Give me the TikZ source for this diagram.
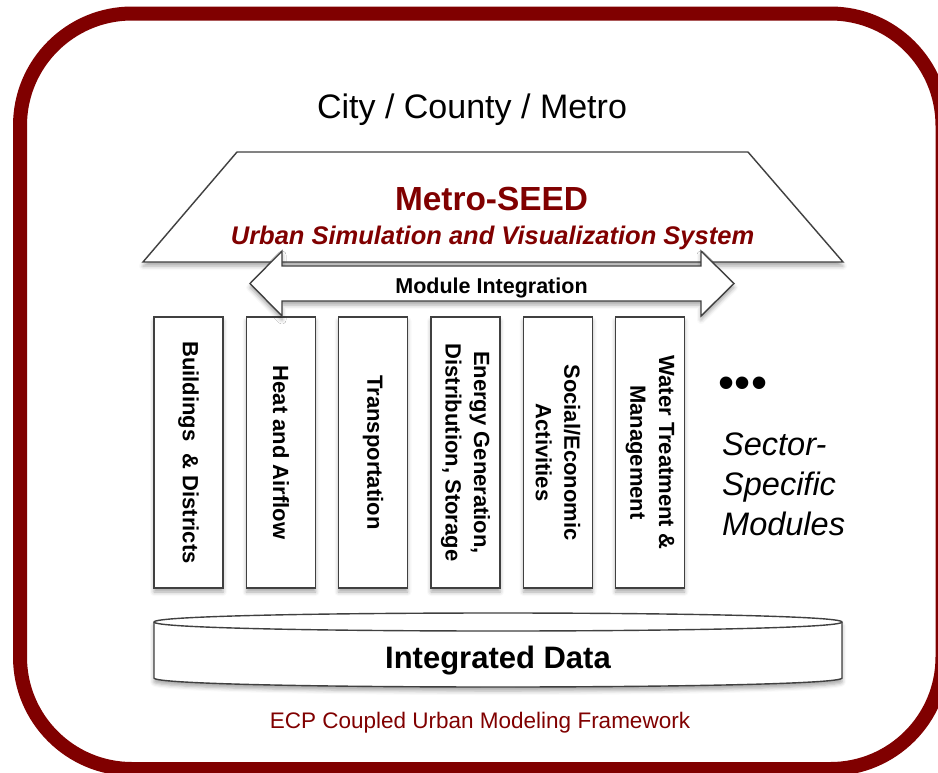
\documentclass[tikz,border=0pt]{standalone}
\usepackage{fontspec}
\setmainfont{Liberation Sans}
\usetikzlibrary{shadows.blur}
\definecolor{frameRed}{RGB}{128,0,0}
\definecolor{lineGray}{RGB}{64,64,64}
\begin{document}
\begin{tikzpicture}[x=1pt,y=-1pt,
  shapeline/.style={draw=lineGray, line width=1.4pt, fill=white, line join=miter},
  shadowed/.style={blur shadow={shadow xshift=0pt, shadow yshift=-4pt, shadow blur radius=4pt, shadow opacity=35}},
  modbox/.style={shapeline, shadowed, rectangle, minimum width=69pt, minimum height=271pt, inner sep=0pt},
  vlabel/.style={rotate=-90, align=center, inner sep=0pt, font=\fontsize{22}{28.6}\selectfont\bfseries, text=black},
  redtext/.style={text=frameRed},
]
\useasboundingbox (0,0) rectangle (938,772);
% outer frame
\draw[draw=frameRed, line width=14pt, rounded corners=112pt] (20,13.5) rectangle (942.5,769);

\node[anchor=base, font=\fontsize{34}{40}\selectfont] (city) at (472,118) {City / County / Metro};

% trapezoid
\filldraw[shapeline, shadowed] (237,152) -- (748,152) -- (843,262) -- (143,262) -- cycle;
\node[anchor=base, redtext, font=\fontsize{33.4}{40}\selectfont\bfseries] (seed) at (491.5,210) {Metro-SEED};
\node[anchor=base, redtext, font=\fontsize{25.5}{30}\selectfont\bfseries\itshape] (usvs) at (492.5,244) {Urban Simulation and Visualization System};

% module boxes
\node[modbox] (b1) at (188.5,452.5) {};
\node[modbox] (b2) at (281,452.5) {};
\node[modbox] (b3) at (373,452.5) {};
\node[modbox] (b4) at (465.5,452.5) {};
\node[modbox] (b5) at (558,452.5) {};
\node[modbox] (b6) at (650,452.5) {};
\node[vlabel] (t1) at (b1) {Buildings\ \ \& Districts};
\node[vlabel] (t2) at (b2) {Heat and Airflow};
\node[vlabel] (t3) at (b3) {Transportation};
\node[vlabel] (t4) at (b4) {Energy Generation,\\Distribution, Storage};
\node[vlabel] (t5) at (b5) {Social/Economic\\Activities};
\node[vlabel] (t6) at (b6) {Water Treatment \&\\Management};

% module integration double arrow
\filldraw[shapeline, shadowed] (250,283.5) -- (282,251) -- (282,266) -- (701,266) -- (701,251) -- (734,283.5) -- (701,316) -- (701,301) -- (282,301) -- (282,316) -- cycle;
\node[anchor=base, font=\fontsize{21.5}{26}\selectfont\bfseries] (mi) at (491.5,293) {Module Integration};

% sector specific
\node[anchor=base, font=\fontsize{46}{50}\selectfont] (dots) at (743,398) {•••};
\node[anchor=base west, align=left, inner sep=0pt, font=\fontsize{32.5}{40}\selectfont\itshape] (ssm) at (722,535) {Sector-\\Specific\\Modules};

% integrated data disk
\filldraw[shapeline, shadowed] (154,622) -- (154,678) .. controls (154,690) and (842,690) .. (842,678) -- (842,622) .. controls (842,610) and (154,610) .. (154,622) -- cycle;
\draw[draw=lineGray, line width=1.4pt] (154,622) .. controls (154,634) and (842,634) .. (842,622);
\node[anchor=base, font=\fontsize{31}{36}\selectfont\bfseries] (data) at (498,668) {Integrated Data};

\node[anchor=base, redtext, font=\fontsize{22.5}{27}\selectfont] (ecp) at (480,728) {ECP Coupled Urban Modeling Framework};
\end{tikzpicture}
\end{document}
